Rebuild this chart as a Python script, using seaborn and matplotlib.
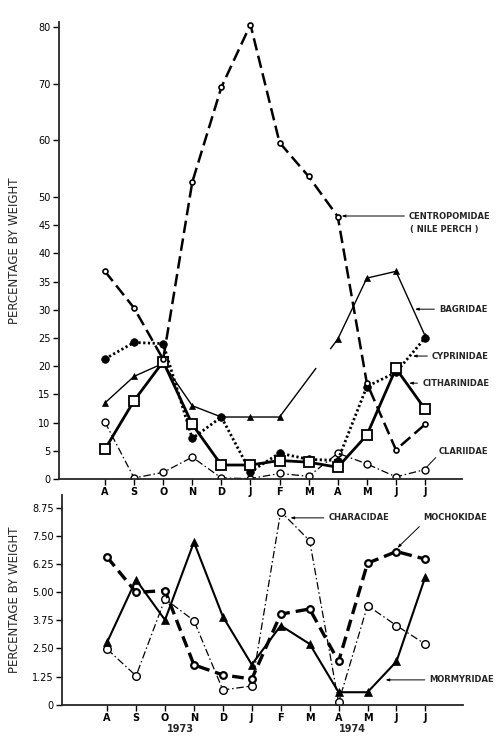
import numpy as np
import matplotlib
matplotlib.use("Agg")
import matplotlib.pyplot as plt
import seaborn as sns

# Monthly catch composition, Aug 1973 - Jul 1974
months = ["A", "S", "O", "N", "D", "J", "F", "M", "A", "M", "J", "J"]
x = np.arange(len(months))

# upper panel
centropomidae = [36.8, 30.3, 21.2, 52.6, 69.4, 80.5, 59.6, 53.6, 46.5, 17.0, 5.2, 9.7]
cyprinidae = [21.3, 24.2, 24.0, 7.2, 11.0, 1.3, 4.6, 3.5, 3.3, 16.4, 18.9, 25.0]
bagridae_1 = [13.5, 18.2, 20.5, 13.0, 11.0, 11.0, 11.0]   # A .. F 1974
bagridae_2 = [24.8, 35.6, 36.8, 25.4]                     # A .. J 1974
citharinidae = [5.3, 13.9, 20.8, 9.7, 2.5, 2.5, 3.3, 3.0, 2.1, 7.8, 19.6, 12.4]
clariidae = [10.1, 0.2, 1.2, 3.9, 0.2, 0.1, 1.0, 0.5, 4.6, 2.7, 0.4, 1.7]

# lower panel
mochokidae = [6.57, 5.00, 5.08, 1.77, 1.32, 1.14, 4.03, 4.26, 1.92, 6.30, 6.82, 6.48]
mormyridae = [2.78, 5.56, 3.77, 7.24, 3.92, 1.78, 3.52, 2.70, 0.55, 0.55, 1.92, 5.70]
characidae = [2.47, 1.28, 4.71, 3.74, 0.65, 0.83, 8.60, 7.30, 0.10, 4.41, 3.52, 2.69]

top_ticks = [0, 5, 10, 15, 20, 25, 30, 35, 40, 45, 50, 60, 70, 80]
bottom_ticks = [0, 1.25, 2.5, 3.75, 5.0, 6.25, 7.5, 8.75]
bottom_labels = ["0", "1.25", "2.50", "3.75", "5.00", "6.25", "7.50", "8.75"]

sns.set_style("ticks")
plt.rcParams["font.family"] = ["DejaVu Sans"]

fig = plt.figure(figsize=(5, 7.44), dpi=100)
ax1 = fig.add_axes([0.118, 0.356, 0.806, 0.614])
ax2 = fig.add_axes([0.124, 0.053, 0.802, 0.282])
ax2.patch.set_alpha(0)


def draw(ax, xs, ys, **kw):
    kw.setdefault("markeredgecolor", "black")
    sns.lineplot(x=xs, y=ys, ax=ax, color="black", **kw)


# ---------------------------
# Upper panel
# ---------------------------
draw(ax1, x, clariidae, lw=0.9, linestyle=(0, (6, 2.2, 1.2, 2.2)),
     marker="o", markersize=5, markerfacecolor="white", markeredgewidth=1.0)
draw(ax1, x[:7], bagridae_1, lw=1.0, marker="^", markersize=5,
     markerfacecolor="black", markeredgewidth=0.5)
draw(ax1, x[8:], bagridae_2, lw=1.0, marker="^", markersize=5,
     markerfacecolor="black", markeredgewidth=0.5)
# broken connector F -> A for Bagridae
ax1.plot([x[6], x[8]], [bagridae_1[-1], bagridae_2[0]], color="black",
         lw=1.0, linestyle=(0, (44, 17, 40, 1)), zorder=1)
draw(ax1, x, cyprinidae, lw=2.0, linestyle=(0, (0.8, 0.9)),
     marker="o", markersize=5.5, markerfacecolor="black", markeredgewidth=0.5)
draw(ax1, x, citharinidae, lw=2.0, marker="s", markersize=6.5,
     markerfacecolor="white", markeredgewidth=1.3)
draw(ax1, x, centropomidae, lw=1.8, linestyle=(0, (5.0, 2.2)),
     marker="o", markersize=3.6, markerfacecolor="white", markeredgewidth=1.2)

ax1.set_xlim(-1.58, 12.27)
ax1.set_ylim(0, 80.9)
ax1.set_yticks(top_ticks)
ax1.set_yticklabels([str(t) for t in top_ticks])
ax1.set_xticks(x)
ax1.set_xticklabels(months, fontweight="bold")
ax1.set_ylabel("PERCENTAGE BY WEIGHT", fontsize=8.5, labelpad=12)

ann = dict(fontsize=6, fontweight="bold", va="center", ha="left")
head = dict(arrowstyle="-|>,head_length=0.35,head_width=0.12", color="black",
            lw=0.7, shrinkA=1, shrinkB=0)
ax1.annotate("CENTROPOMIDAE", xy=(8.13, 46.6), xytext=(10.45, 46.6),
             arrowprops=head, **ann)
ax1.text(11.66, 44.2, "( NILE PERCH )", fontsize=6, fontweight="bold",
         ha="center", va="center")
ax1.annotate("BAGRIDAE", xy=(10.65, 30.1), xytext=(11.48, 30.1),
             arrowprops=head, **ann)
ax1.annotate("CYPRINIDAE", xy=(10.58, 21.8), xytext=(11.24, 21.8),
             arrowprops=head, **ann)
ax1.annotate("CITHARINIDAE", xy=(10.45, 17.0), xytext=(10.9, 17.0),
             arrowprops=head, **ann)
ax1.annotate("CLARIIDAE", xy=(11.05, 2.1), xytext=(11.48, 4.9),
             arrowprops=dict(arrowstyle="-", color="black", lw=0.7,
                             shrinkA=0, shrinkB=0, relpos=(0, 0.2)), **ann)

# ---------------------------
# Lower panel
# ---------------------------
draw(ax2, x, characidae, lw=0.9, linestyle=(0, (6, 2.2, 1.2, 2.2)),
     marker="o", markersize=5.5, markerfacecolor="white", markeredgewidth=1.0)
draw(ax2, x, mormyridae, lw=1.5, marker="^", markersize=5.5,
     markerfacecolor="black", markeredgewidth=0.5)
draw(ax2, x, mochokidae, lw=2.4, linestyle=(0, (3.5, 1.8)),
     marker="o", markersize=4.8, markerfacecolor="white", markeredgewidth=1.6)

ax2.set_xlim(-1.56, 12.3)
ax2.set_ylim(0, 9.35)
ax2.set_yticks(bottom_ticks)
ax2.set_yticklabels(bottom_labels)
ax2.set_xticks(x)
ax2.set_xticklabels(months, fontweight="bold")
ax2.set_ylabel("PERCENTAGE BY WEIGHT", fontsize=8.5, labelpad=8)

ax2.annotate("CHARACIDAE", xy=(6.33, 8.32), xytext=(7.65, 8.32),
             arrowprops=head, **ann)
ax2.annotate("MOCHOKIDAE", xy=(10.03, 6.98), xytext=(10.93, 8.32),
             arrowprops=dict(head, relpos=(0.02, 0.1)), **ann)
ax2.annotate("MORMYRIDAE", xy=(9.62, 1.1), xytext=(11.14, 1.1),
             arrowprops=head, **ann)

tr = ax2.get_xaxis_transform()
ax2.text(2.53, -0.115, "1973", transform=tr, fontsize=7, fontweight="bold",
         ha="center", va="center")
ax2.text(8.48, -0.115, "1974", transform=tr, fontsize=7, fontweight="bold",
         ha="center", va="center")

for ax in (ax1, ax2):
    sns.despine(ax=ax)
    ax.spines["left"].set_linewidth(1.3)
    ax.spines["bottom"].set_linewidth(1.3)
    ax.tick_params(axis="both", direction="out", length=4, width=1.0,
                   labelsize=7, pad=2, color="black", labelcolor="black")
    ax.set_xlabel("")

fig.savefig("out.png", dpi=100, facecolor="white")
